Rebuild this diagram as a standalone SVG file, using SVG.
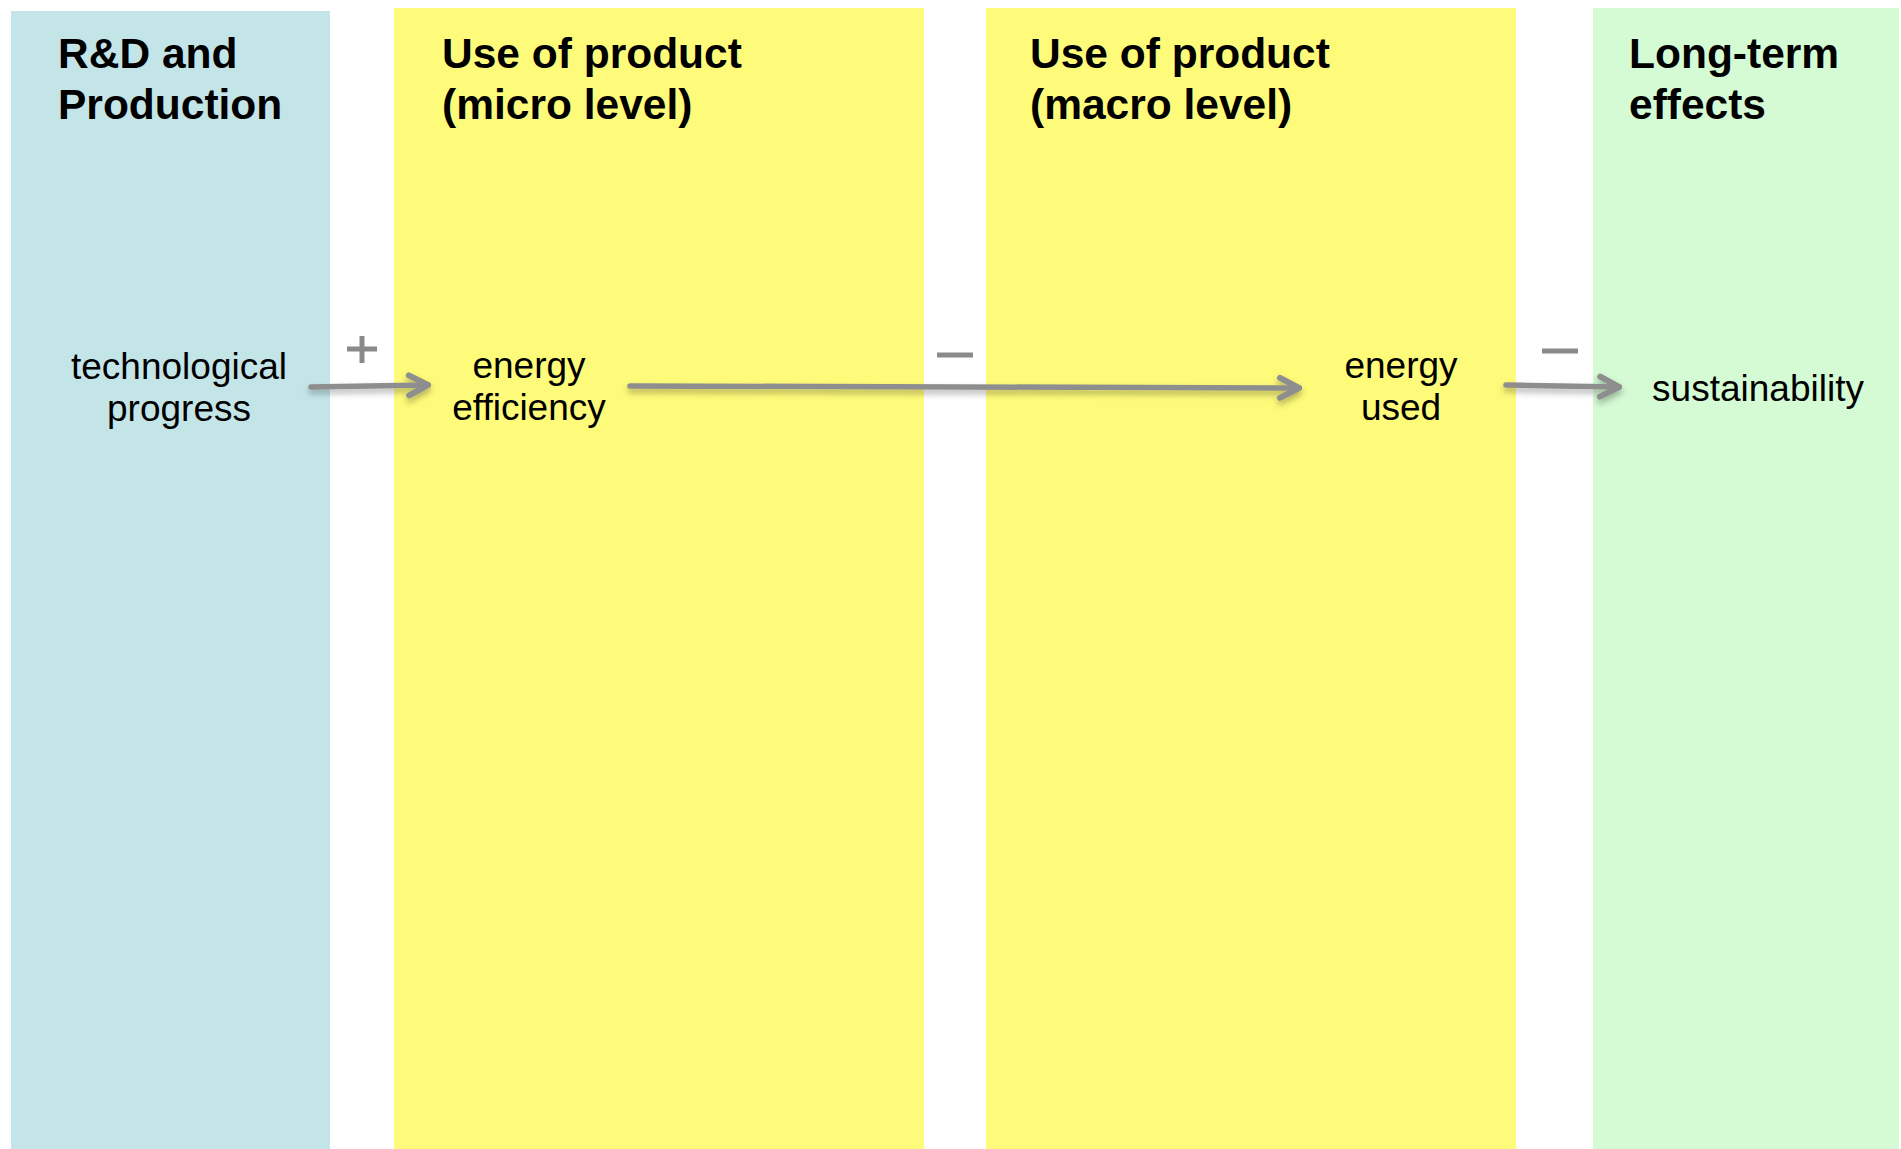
<svg xmlns="http://www.w3.org/2000/svg" width="1901" height="1149" viewBox="0 0 1901 1149">
  <style>
    .title { font-family: "Liberation Sans", Arial, sans-serif; font-weight: bold; font-size: 42.5px; fill: #000; }
    .label { font-family: "Liberation Sans", Arial, sans-serif; font-size: 37px; fill: #000; text-anchor: middle; }
    .conn { stroke: #8e8e8e; stroke-width: 5.5; fill: none; stroke-linecap: round; }
    .sign { stroke: #8a8a8a; stroke-width: 5; fill: none; }
  </style>
  <defs>
    <filter id="shadow" filterUnits="userSpaceOnUse" x="0" y="0" width="1901" height="1149">
      <feDropShadow dx="0" dy="4" stdDeviation="3" flood-color="#000" flood-opacity="0.3"/>
    </filter>
    <marker id="chevron" markerUnits="userSpaceOnUse" markerWidth="34" markerHeight="34" viewBox="-28 -17 34 34" refX="0" refY="0" orient="auto">
      <path d="M-19,-10 L0,0 L-19,10" fill="none" stroke="#8e8e8e" stroke-width="6" stroke-linecap="round" stroke-linejoin="round"/>
    </marker>
  </defs>

  <rect width="1901" height="1149" fill="#ffffff"/>

  <!-- columns -->
  <g id="col-rnd">
    <rect x="11" y="11" width="319" height="1138" fill="#c4e5e8"/>
    <text class="title" x="58" y="68">R&amp;D and</text>
    <text class="title" x="58" y="119">Production</text>
  </g>
  <g id="col-micro">
    <rect x="394" y="8" width="530" height="1141" fill="#fefb7a"/>
    <text class="title" x="442" y="68">Use of product</text>
    <text class="title" x="442" y="119">(micro level)</text>
  </g>
  <g id="col-macro">
    <rect x="986" y="8" width="530" height="1141" fill="#fefb7a"/>
    <text class="title" x="1030" y="68">Use of product</text>
    <text class="title" x="1030" y="119">(macro level)</text>
  </g>
  <g id="col-long">
    <rect x="1593" y="8" width="306" height="1141" fill="#d4fbd4"/>
    <text class="title" x="1629" y="68">Long-term</text>
    <text class="title" x="1629" y="119">effects</text>
  </g>

  <!-- nodes -->
  <g id="node-tech">
    <text class="label" x="179" y="379">technological</text>
    <text class="label" x="179" y="421">progress</text>
  </g>
  <g id="node-efficiency">
    <text class="label" x="529" y="378">energy</text>
    <text class="label" x="529" y="420">efficiency</text>
  </g>
  <g id="node-energy-used">
    <text class="label" x="1401" y="378">energy</text>
    <text class="label" x="1401" y="420">used</text>
  </g>
  <g id="node-sustainability">
    <text class="label" x="1758" y="401">sustainability</text>
  </g>

  <!-- connectors with polarity signs -->
  <g id="connectors">
    <g filter="url(#shadow)">
      <line class="conn" x1="311" y1="387" x2="428" y2="385" marker-end="url(#chevron)"/>
      <line class="conn" x1="630" y1="386" x2="1299" y2="388" marker-end="url(#chevron)"/>
      <line class="conn" x1="1506" y1="385" x2="1619" y2="387" marker-end="url(#chevron)"/>
    </g>
    <path class="sign" d="M347,349 H377 M362,336 V363"/>
    <path class="sign" d="M937,355 H973"/>
    <path class="sign" d="M1542,351 H1578"/>
  </g>
</svg>
